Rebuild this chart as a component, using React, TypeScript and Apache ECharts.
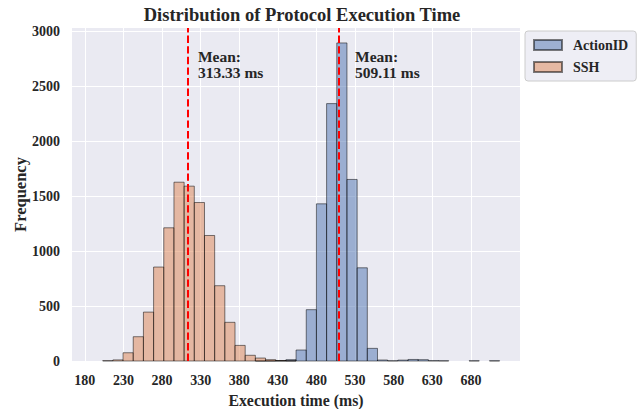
import React, { useEffect, useRef } from "react";
import * as echarts from "echarts";

// Histogram bins (shared by both series)
const binStart = 190.0;
const binWidth = 13.18;
const binCount = 40;

const actionIdCounts = [
  0, 0, 0, 0, 0, 0, 0, 0, 0, 0,
  0, 0, 0, 0, 0, 0, 1, 2, 4, 12,
  100, 467, 1430, 2342, 2894, 1652, 848, 115, 9, 2,
  8, 14, 12, 3, 2, 0, 0, 2, 0, 2,
];
const sshCounts = [
  0, 3, 10, 75, 221, 445, 855, 1212, 1627, 1591,
  1442, 1142, 685, 352, 142, 52, 27, 12, 4, 2,
  0, 0, 0, 0, 0, 0, 0, 0, 0, 0,
  0, 0, 0, 0, 0, 0, 0, 0, 0, 0,
];

const seriesNames = ["ActionID", "SSH"];
const seriesFill = ["rgba(76,114,176,0.5)", "rgba(221,132,82,0.5)"];
const means = [509.11, 313.33];
const meanLabelX = [530, 326.5];
const meanLabelY = 2700;

const xTicks = [180, 230, 280, 330, 380, 430, 480, 530, 580, 630, 680];
const yTicks = [0, 500, 1000, 1500, 2000, 2500, 3000];
const xMin = 163.4;
const xMax = 743.6;
const yMax = 3030;

const FONT = "'Liberation Serif', 'DejaVu Serif', serif";
const TEXT = "#262626";

function binData(counts: number[]) {
  const out: number[][] = [];
  for (let i = 0; i < binCount; i++) {
    out.push([binStart + i * binWidth, binStart + (i + 1) * binWidth, counts[i]]);
  }
  return out;
}

export default function App() {
  const ref = useRef<HTMLDivElement>(null);
  useEffect(() => {
    if (!ref.current) return;
    const chart = echarts.init(ref.current, undefined, { renderer: "svg" });
    const histSeries = [actionIdCounts, sshCounts].map((counts, si) => ({
      type: "custom",
      name: seriesNames[si],
      data: binData(counts),
      encode: { x: [0, 1], y: 2 },
      itemStyle: { color: seriesFill[si], borderColor: "rgba(0,0,0,0.5)", borderWidth: 1 },
      renderItem: (params: any, api: any) => {
        const x0 = api.value(0);
        const x1 = api.value(1);
        const c = api.value(2);
        if (!c) return null;
        const p0 = api.coord([x0, 0]);
        const p1 = api.coord([x1, c]);
        return {
          type: "rect",
          shape: { x: p0[0], y: p1[1], width: p1[0] - p0[0], height: p0[1] - p1[1] },
          style: { fill: seriesFill[si], stroke: "rgba(0,0,0,0.5)", lineWidth: 1 },
        };
      },
      z: 2 + si,
    }));
    const meanSeries = {
      type: "line",
      name: "mean",
      data: [],
      z: 10,
      markLine: {
        silent: true,
        symbol: "none",
        label: { show: false },
        lineStyle: { color: "#ff0000", type: [7.4, 3.2], width: 2 },
        data: means.map((m) => ({ xAxis: m })),
      },
      markPoint: {
        silent: true,
        symbol: "circle",
        symbolSize: 0,
        data: means.map((m, i) => ({
          coord: [meanLabelX[i], meanLabelY],
          label: {
            show: true,
            position: [0, 0],
            align: "left",
            verticalAlign: "middle",
            formatter: "Mean:\n" + m.toFixed(2) + " ms",
            fontFamily: FONT,
            fontWeight: "bold",
            fontSize: 15.5,
            lineHeight: 16.5,
            color: TEXT,
          },
        })),
      },
    };
    chart.setOption({
      animation: false,
      backgroundColor: "#ffffff",
      title: {
        text: "Distribution of Protocol Execution Time",
        left: 297,
        textAlign: "center",
        top: 0,
        textStyle: { fontFamily: FONT, fontWeight: "bold", fontSize: 18.5, color: TEXT },
      },
      legend: {
        data: seriesNames,
        orient: "vertical",
        left: 525,
        top: 31,
        padding: [7, 8, 7, 8],
        itemGap: 8,
        itemWidth: 28,
        itemHeight: 10,
        icon: "rect",
        backgroundColor: "rgba(234,234,242,0.8)",
        borderColor: "#cccccc",
        borderWidth: 1,
        borderRadius: 3,
        textStyle: { fontFamily: FONT, fontWeight: "bold", fontSize: 14, color: TEXT, padding: [0, 0, 0, 6] },
      },
      grid: {
        left: 72,
        right: 119,
        top: 28,
        bottom: 48,
        show: true,
        backgroundColor: "#EAEAF2",
        borderWidth: 0,
        containLabel: false,
        outerBoundsMode: "none",
      },
      xAxis: {
        type: "value",
        min: xMin,
        max: xMax,
        name: "Execution time (ms)",
        nameLocation: "middle",
        nameGap: 31,
        nameMoveOverlap: false,
        nameTextStyle: { fontFamily: FONT, fontWeight: "bold", fontSize: 15.8, color: TEXT },
        axisLine: { show: false },
        axisTick: { show: false, customValues: xTicks },
        axisLabel: {
          customValues: xTicks,
          margin: 12,
          fontFamily: FONT,
          fontWeight: "bold",
          fontSize: 14,
          color: TEXT,
          formatter: (v: number) => String(v),
        },
        splitLine: { show: true, lineStyle: { color: "#ffffff", width: 1 } },
      },
      yAxis: {
        type: "value",
        min: 0,
        max: yMax,
        name: "Frequency",
        nameLocation: "middle",
        nameGap: 43,
        nameMoveOverlap: false,
        nameTextStyle: { fontFamily: FONT, fontWeight: "bold", fontSize: 16.5, color: TEXT },
        axisLine: { show: false },
        axisTick: { show: false, customValues: yTicks },
        axisLabel: {
          customValues: yTicks,
          margin: 12,
          fontFamily: FONT,
          fontWeight: "bold",
          fontSize: 14,
          color: TEXT,
          formatter: (v: number) => String(v),
        },
        splitLine: { show: true, lineStyle: { color: "#ffffff", width: 1 } },
      },
      series: [...histSeries, meanSeries],
    });
    return () => chart.dispose();
  }, []);
  return (
    <div
      ref={ref}
      style={{ position: "fixed", left: 0, top: 0, width: 639, height: 409 }}
    />
  );
}
